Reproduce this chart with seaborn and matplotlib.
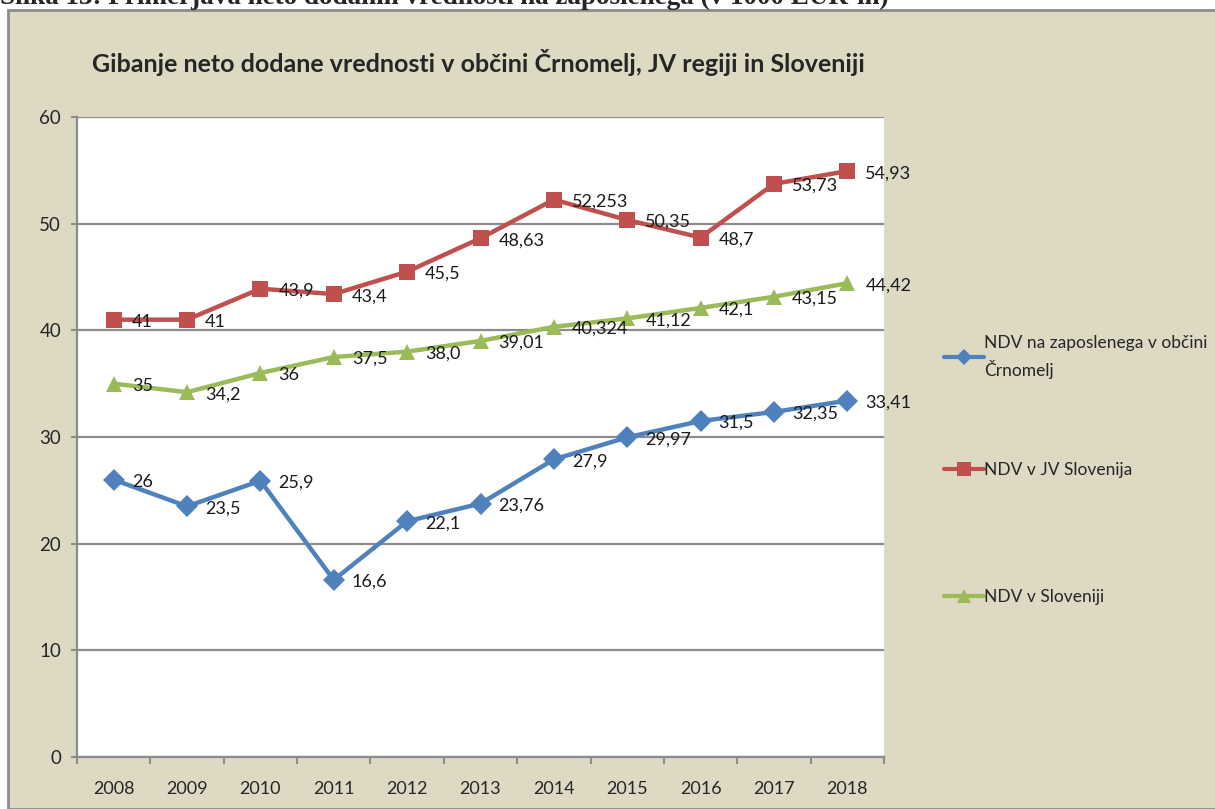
import numpy as np
import pandas as pd
import matplotlib.pyplot as plt
import seaborn as sns
from matplotlib.lines import Line2D
from matplotlib.patches import Rectangle

# Chart data
years = [2008, 2009, 2010, 2011, 2012, 2013, 2014, 2015, 2016, 2017, 2018]
crnomelj = [26, 23.5, 25.9, 16.6, 22.1, 23.76, 27.9, 29.97, 31.5, 32.35, 33.41]
jv_slo = [41, 41, 43.9, 43.4, 45.5, 48.63, 52.253, 50.35, 48.7, 53.73, 54.93]
slovenija = [35, 34.2, 36, 37.5, 38.0, 39.01, 40.324, 41.12, 42.1, 43.15, 44.42]
crnomelj_lbl = ["26", "23,5", "25,9", "16,6", "22,1", "23,76", "27,9", "29,97", "31,5", "32,35", "33,41"]
jv_lbl = ["41", "41", "43,9", "43,4", "45,5", "48,63", "52,253", "50,35", "48,7", "53,73", "54,93"]
slo_lbl = ["35", "34,2", "36", "37,5", "38,0", "39,01", "40,324", "41,12", "42,1", "43,15", "44,42"]

names = ["NDV na zaposlenega v občini\nČrnomelj", "NDV v JV Slovenija", "NDV v Sloveniji"]
colors = ["#4f81bd", "#c0504d", "#9bbb59"]
markers = ["D", "s", "^"]
msizes = [10, 12, 12]

df = pd.DataFrame({
    "year": years * 3,
    "value": crnomelj + jv_slo + slovenija,
    "series": [names[0]] * len(years) + [names[1]] * len(years) + [names[2]] * len(years),
})

sns.set_style("white")
plt.rcParams["font.family"] = ["Lato", "DejaVu Sans"]

bg = "#ddd9c3"
grid_c = "#8c8c8c"
fig = plt.figure(figsize=(12.15, 8.09), dpi=100, facecolor="white")
fig.patches.append(Rectangle((8 / 1215, 0), 1.0, 1 - 10 / 809, transform=fig.transFigure,
                             facecolor=bg, edgecolor=grid_c, linewidth=2, zorder=-10))
fig.text(0.0, 1 - 4 / 809, "Slika 13: Primerjava neto dodanih vrednosti na zaposlenega (v 1000 EUR-ih)",
         family="Liberation Serif", weight="bold", fontsize=19.5, va="baseline", ha="left")

ax = fig.add_axes([77 / 1215, 52 / 809, 807 / 1215, 640 / 809])
ax.set_facecolor("white")

sns.lineplot(data=df, x="year", y="value", hue="series", style="series",
             palette=dict(zip(names, colors)), markers=dict(zip(names, markers)),
             dashes=False, linewidth=3.2, markersize=11, markeredgewidth=0,
             ax=ax, legend=False)

for vals, lbls in [(crnomelj, crnomelj_lbl), (jv_slo, jv_lbl), (slovenija, slo_lbl)]:
    for x, y, t in zip(years, vals, lbls):
        ax.annotate(t, (x, y), xytext=(13, -1.5), textcoords="offset points",
                    va="center", ha="left", fontsize=13, color="#1a1a1a")

ax.set_xlim(2007.5, 2018.5)
ax.set_ylim(0, 60)
ax.set_yticks(range(0, 61, 10))
ax.yaxis.grid(True, color=grid_c, linewidth=1.6)
ax.set_axisbelow(True)
ax.set_xticks(np.arange(2007.5, 2019, 1))
ax.set_xticklabels([])
ax.set_xticks(years, minor=True)
ax.set_xticklabels([str(y) for y in years], minor=True)
ax.tick_params(axis="x", which="major", direction="out", length=5, width=1.5, color=grid_c, bottom=True)
ax.tick_params(axis="x", which="minor", length=0, pad=17, labelsize=13)
ax.tick_params(axis="y", direction="out", length=4.5, width=1.5, color=grid_c, left=True, pad=7, labelsize=13.5)
ax.set_xlabel("")
ax.set_ylabel("")
for s in ["top", "right"]:
    ax.spines[s].set_visible(False)
for s in ["left", "bottom"]:
    ax.spines[s].set_color(grid_c)
    ax.spines[s].set_linewidth(1.6)

fig.text(478 / 1215, 1 - 62 / 809, "Gibanje neto dodane vrednosti v občini Črnomelj, JV regiji in Sloveniji",
         ha="center", va="center", fontsize=18, weight="bold")

# legend: one entry per block, placed like the original
leg_y = [357, 470, 597]
for c, m, ms, name, yy in zip(colors, markers, msizes, names, leg_y):
    h = Line2D([], [], color=c, marker=m, markersize=ms * 0.8, markeredgewidth=0, linewidth=3)
    leg = fig.legend([h], [name], loc="center left", bbox_to_anchor=(935 / 1215, 1 - yy / 809),
                     frameon=False, fontsize=12.5, handlelength=2.3, handletextpad=0.05, borderpad=0)
    for t in leg.get_texts():
        t.set_linespacing(1.6)

fig.savefig("out.png", dpi=100, facecolor=fig.get_facecolor())
